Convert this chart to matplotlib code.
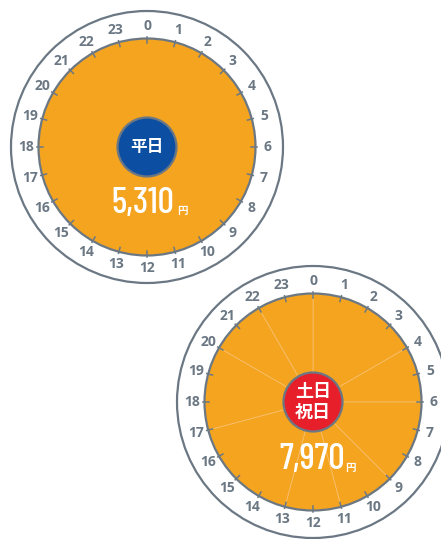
import numpy as np
import matplotlib
matplotlib.use('Agg')
import matplotlib.pyplot as plt
from matplotlib.patches import Circle

# data
hours = list(range(24))
hour_labels = [str(h) for h in hours]

weekday_total = '5,310'
weekday_label = '平日'
weekday_sizes = [24]                      # one slice, no split

holiday_total = '7,970'
holiday_label = '土日\n祝日'
holiday_bounds = [0, 4, 6, 9, 11, 13, 17, 20, 22, 24]
holiday_sizes = list(np.diff(holiday_bounds))

ORANGE = '#F5A41F'
GREY = '#6B7884'
BLUE = '#0C4EA2'
RED = '#E61F2B'

W, H = 441, 539
fig = plt.figure(figsize=(W / 100, H / 100), dpi=100)
ax = fig.add_axes([0, 0, 1, 1])

plt.rcParams['font.family'] = ['Noto Sans CJK JP', 'DejaVu Sans']


def clock(cx, cy, sizes, badge_color, badge_text, badge_fs, total, num_off, yen_off):
    cy = H - cy
    # outer ring
    ax.add_patch(Circle((cx, cy), 136, facecolor='white', edgecolor=GREY, lw=1.6, zorder=1))
    # slices
    ax.pie(sizes, colors=[ORANGE] * len(sizes), radius=108.5, center=(cx, cy),
           startangle=90, counterclock=False, frame=True,
           wedgeprops=dict(edgecolor='#F7BD66', linewidth=0.6 if len(sizes) > 1 else 0, zorder=2))
    ax.add_patch(Circle((cx, cy), 108.5, facecolor='none', edgecolor=GREY, lw=1.6, zorder=3))
    # ticks and hour labels
    for h, lab in zip(hours, hour_labels):
        a = np.deg2rad(90 - h * 15)
        ax.plot([cx + 104 * np.cos(a), cx + 110 * np.cos(a)],
                [cy + 104 * np.sin(a), cy + 110 * np.sin(a)], color=GREY, lw=1.1, zorder=4)
        ax.text(cx + 121 * np.cos(a), cy + 121 * np.sin(a), lab, ha='center', va='center',
                fontsize=10, color=GREY, fontweight='bold', family=['Open Sans', 'DejaVu Sans'], zorder=5)
    # badge
    ax.add_patch(Circle((cx, cy), 29.5, facecolor=badge_color, edgecolor=GREY, lw=1.6, zorder=6))
    ax.text(cx, cy, badge_text, ha='center', va='center', color='white', fontsize=badge_fs,
            fontweight='bold', linespacing=1.1, zorder=7)
    # total
    ax.text(cx + num_off[0], cy - num_off[1], total, ha='center', va='center', color='white',
            fontsize=26, fontweight=500, family=['Barlow Condensed', 'DejaVu Sans'], zorder=7)
    ax.text(cx + yen_off[0], cy - yen_off[1], '円', ha='center', va='center', color='white',
            fontsize=7.5, fontweight='bold', zorder=7)


clock(147, 147, weekday_sizes, BLUE, weekday_label, 12, weekday_total, (-4, 57), (35, 64))
clock(313, 402, holiday_sizes, RED, holiday_label, 13, holiday_total, (-1, 58), (37, 66))

ax.set_xlim(0, W)
ax.set_ylim(0, H)
ax.set_aspect('equal')
ax.axis('off')
fig.savefig('out.png', dpi=100)
